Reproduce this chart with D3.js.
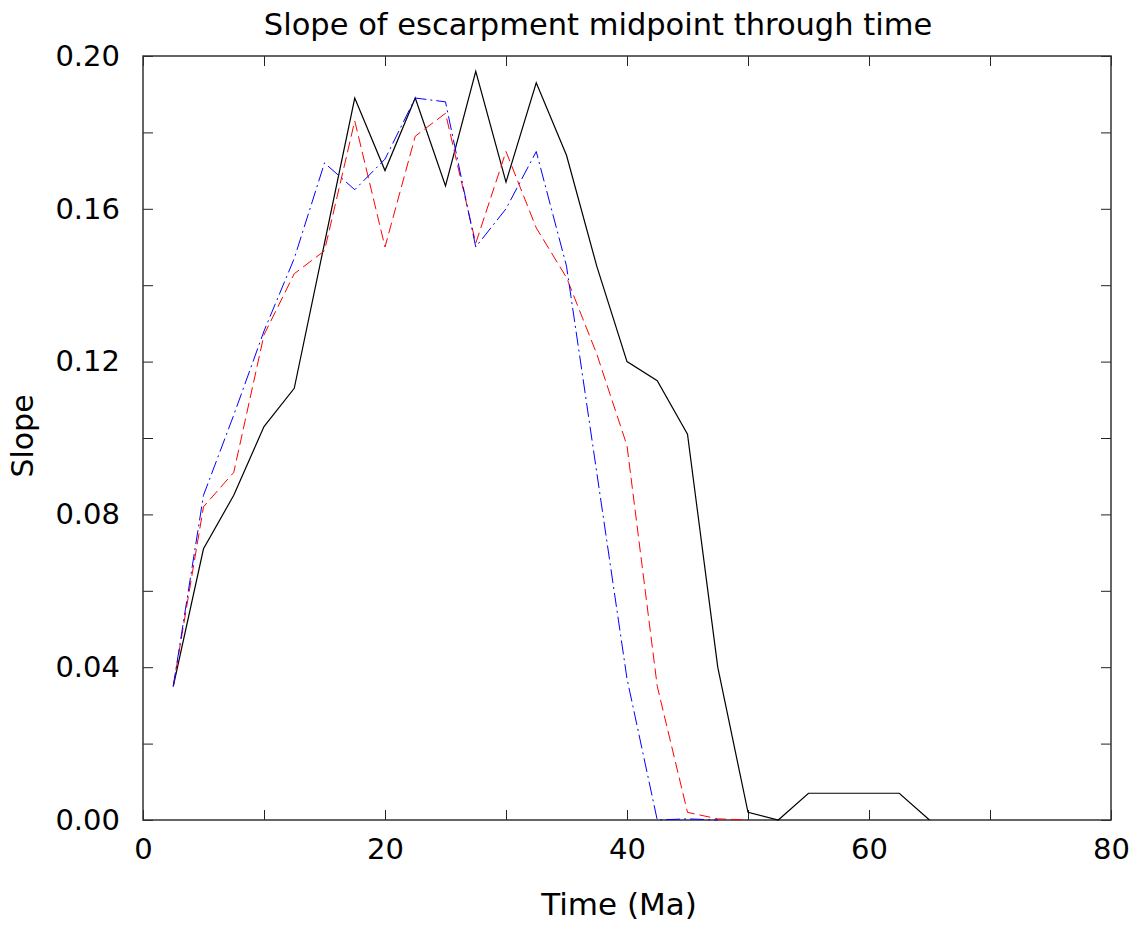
<!DOCTYPE html>
<html>
<head>
<meta charset="utf-8">
<script src="https://cdn.jsdelivr.net/npm/d3@7"></script>
<style>
  body { margin: 0; background: #fff; }
  svg text { font-family: "DejaVu Sans", Verdana, sans-serif; fill: #000; }
</style>
</head>
<body>
<svg id="chart" width="1138" height="926"></svg>
<script>
// time steps (Ma)
let timeMa = [2.5, 5, 7.5, 10, 12.5, 15, 17.5, 20, 22.5, 25, 27.5, 30, 32.5, 35, 37.5, 40,
              42.5, 45, 47.5, 50, 52.5, 55, 57.5, 60, 62.5, 65]

// slope values
let slopeBlack = [0.035, 0.071, 0.085, 0.103, 0.113, 0.151, 0.189, 0.170, 0.189, 0.166, 0.196, 0.167,
                  0.193, 0.174, 0.145, 0.120, 0.115, 0.101, 0.040, 0.002, 0.000, 0.007, 0.007, 0.007,
                  0.007, 0.000]
let slopeRed = [0.035, 0.082, 0.091, 0.127, 0.143, 0.149, 0.183, 0.150, 0.179, 0.185, 0.151, 0.175,
                0.155, 0.142, 0.122, 0.098, 0.035, 0.002, 0.0003, 0.000]
let slopeBlue = [0.035, 0.085, 0.106, 0.128, 0.147, 0.172, 0.165, 0.173, 0.189, 0.188, 0.150, 0.160,
                 0.175, 0.145, 0.091, 0.037, 0.000, 0.0003, 0.000]

let xTicks = [0, 10, 20, 30, 40, 50, 60, 70, 80]
let xLabels = [0, 20, 40, 60, 80]
let yTicks = [0, 0.02, 0.04, 0.06, 0.08, 0.10, 0.12, 0.14, 0.16, 0.18, 0.20]
let yLabels = [0, 0.04, 0.08, 0.12, 0.16, 0.20]

let pad_left = 143
let pad_right = 1111
let pad_top = 56
let pad_bottom = 820

let svg = d3.select('#chart')

let xScale = d3.scaleLinear().domain([0, 80]).range([pad_left, pad_right])
let yScale = d3.scaleLinear().domain([0, 0.20]).range([pad_bottom, pad_top])

// inward ticks on all four sides, labels only on left and bottom
let tickLen = 10
let xAxisBottom = d3.axisBottom(xScale).tickValues(xTicks).tickSize(-tickLen).tickPadding(18)
  .tickFormat(d => xLabels.includes(d) ? d : '')
let xAxisTop = d3.axisTop(xScale).tickValues(xTicks).tickSize(-tickLen).tickFormat('')
let yAxisLeft = d3.axisLeft(yScale).tickValues(yTicks).tickSize(-tickLen).tickPadding(23)
  .tickFormat(d => yLabels.some(v => Math.abs(v - d) < 1e-9) ? d.toFixed(2) : '')
let yAxisRight = d3.axisRight(yScale).tickValues(yTicks).tickSize(-tickLen).tickFormat('')

function styleAxis(g){
  g.select('.domain').remove()
  g.selectAll('line').attr('stroke', '#222').attr('stroke-width', 1)
  g.selectAll('text').style('font-size', '29px').attr('fill', '#000')
}

svg.append('g').attr('transform', 'translate(0,' + pad_bottom + ')').call(xAxisBottom).call(styleAxis)
  .selectAll('text').attr('dy', '0.71em')
svg.append('g').attr('transform', 'translate(0,' + pad_top + ')').call(xAxisTop).call(styleAxis)
svg.append('g').attr('transform', 'translate(' + pad_left + ',0)').call(yAxisLeft).call(styleAxis)
svg.append('g').attr('transform', 'translate(' + pad_right + ',0)').call(yAxisRight).call(styleAxis)

// frame
svg.append('rect')
  .attr('x', pad_left).attr('y', pad_top)
  .attr('width', pad_right - pad_left).attr('height', pad_bottom - pad_top)
  .attr('fill', 'none').attr('stroke', '#333').attr('stroke-width', 1.5)

let series = [
  {name: 'black', values: slopeBlack, color: '#000', dash: null, width: 1.2},
  {name: 'red', values: slopeRed, color: '#ff0000', dash: '11,5', width: 1},
  {name: 'blue', values: slopeBlue, color: '#0000ff', dash: '14,4,2,4', width: 1}
]

let line = d3.line()
  .x(d => xScale(d.t))
  .y(d => yScale(d.v))

svg.append('g').selectAll('path').data(series).join('path')
  .attr('fill', 'none')
  .attr('stroke', d => d.color)
  .attr('stroke-width', d => d.width)
  .attr('stroke-dasharray', d => d.dash)
  .attr('d', d => line(d.values.map((v, i) => ({t: timeMa[i], v: v}))))

svg.append('text').text('Slope of escarpment midpoint through time')
  .attr('x', 598).attr('y', 35).attr('text-anchor', 'middle').style('font-size', '30.5px')
svg.append('text').text('Time (Ma)')
  .attr('x', 619).attr('y', 915).attr('text-anchor', 'middle').style('font-size', '31px')
svg.append('text').text('Slope')
  .attr('transform', 'translate(33,436) rotate(-90)').attr('text-anchor', 'middle').style('font-size', '30px')
</script>
</body>
</html>
